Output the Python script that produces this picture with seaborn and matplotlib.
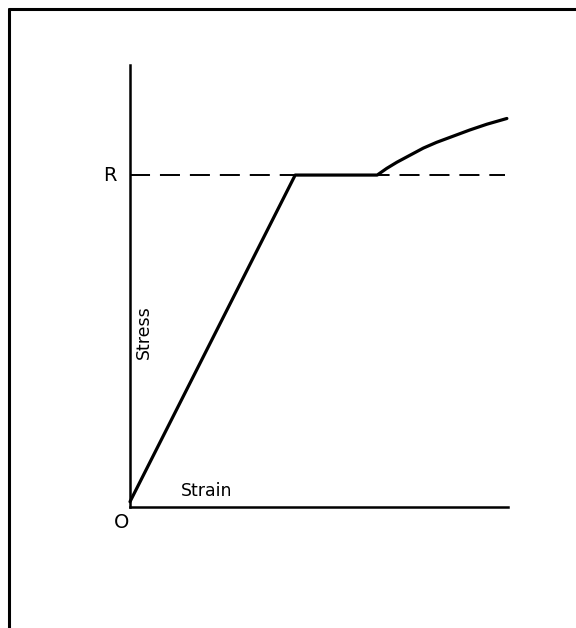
import matplotlib
matplotlib.use("Agg")
import matplotlib.pyplot as plt
from matplotlib.lines import Line2D
import seaborn as sns
import pandas as pd

# Data (normalised strain / stress units)
strain = [0.0, 0.437, 0.654, 0.679, 0.706, 0.741, 0.776, 0.811, 0.855,
          0.899, 0.944, 0.997]
stress = [0.012, 0.751, 0.751, 0.766, 0.780, 0.796, 0.812, 0.825, 0.839,
          0.853, 0.866, 0.879]
yield_level = 0.751
dash_x = [0.0, 0.992]
axis_labels = {"x": "Strain", "y": "Stress"}
level_label = "R"
origin_label = "O"

sns.set_theme(style="white")
plt.rcParams["font.family"] = ["DejaVu Sans"]

fig = plt.figure(figsize=(5.76, 6.28), dpi=100)
fig.patch.set_facecolor("white")
ax = fig.add_axes([130 / 576, 1 - 507 / 628, 378 / 576, 442 / 628])
ax.set_facecolor("white")

df = pd.DataFrame({"strain": strain, "stress": stress})
sns.lineplot(data=df, x="strain", y="stress", sort=False, color="black",
             linewidth=2.3, ax=ax, clip_on=False, solid_joinstyle="round",
             solid_capstyle="round")

dash_df = pd.DataFrame({"x": dash_x, "y": [yield_level] * len(dash_x)})
sns.lineplot(data=dash_df, x="x", y="y", color="black", linewidth=1.4,
             linestyle=(0, (10.3, 5.1)), ax=ax, clip_on=False)

ax.set_xlim(0, 1)
ax.set_ylim(0, 1)
ax.set_xticks([])
ax.set_yticks([])
ax.set_xlabel("")
ax.set_ylabel("")
for side in ["top", "right"]:
    ax.spines[side].set_visible(False)
for side in ["left", "bottom"]:
    ax.spines[side].set_color("black")
    ax.spines[side].set_linewidth(1.8)

ax.text(-20 / 378, yield_level, level_label, ha="center", va="center",
        fontsize=14, color="black")
ax.text(-8 / 378, -16 / 442, origin_label, ha="center", va="center",
        fontsize=14, color="black")
ax.text(77 / 378, 16 / 442, axis_labels["x"], ha="center", va="center",
        fontsize=12.5, color="black")
ax.text(14 / 378, 175 / 442, axis_labels["y"], ha="center", va="center",
        fontsize=12.5, color="black", rotation=90)

# page frame
fig.add_artist(Line2D([9 / 576, 9 / 576], [0, 1 - 9 / 628], color="black",
                      linewidth=2.2, transform=fig.transFigure))
fig.add_artist(Line2D([9 / 576, 1], [1 - 9 / 628, 1 - 9 / 628], color="black",
                      linewidth=2.2, transform=fig.transFigure))

fig.savefig("out.png", dpi=100)
